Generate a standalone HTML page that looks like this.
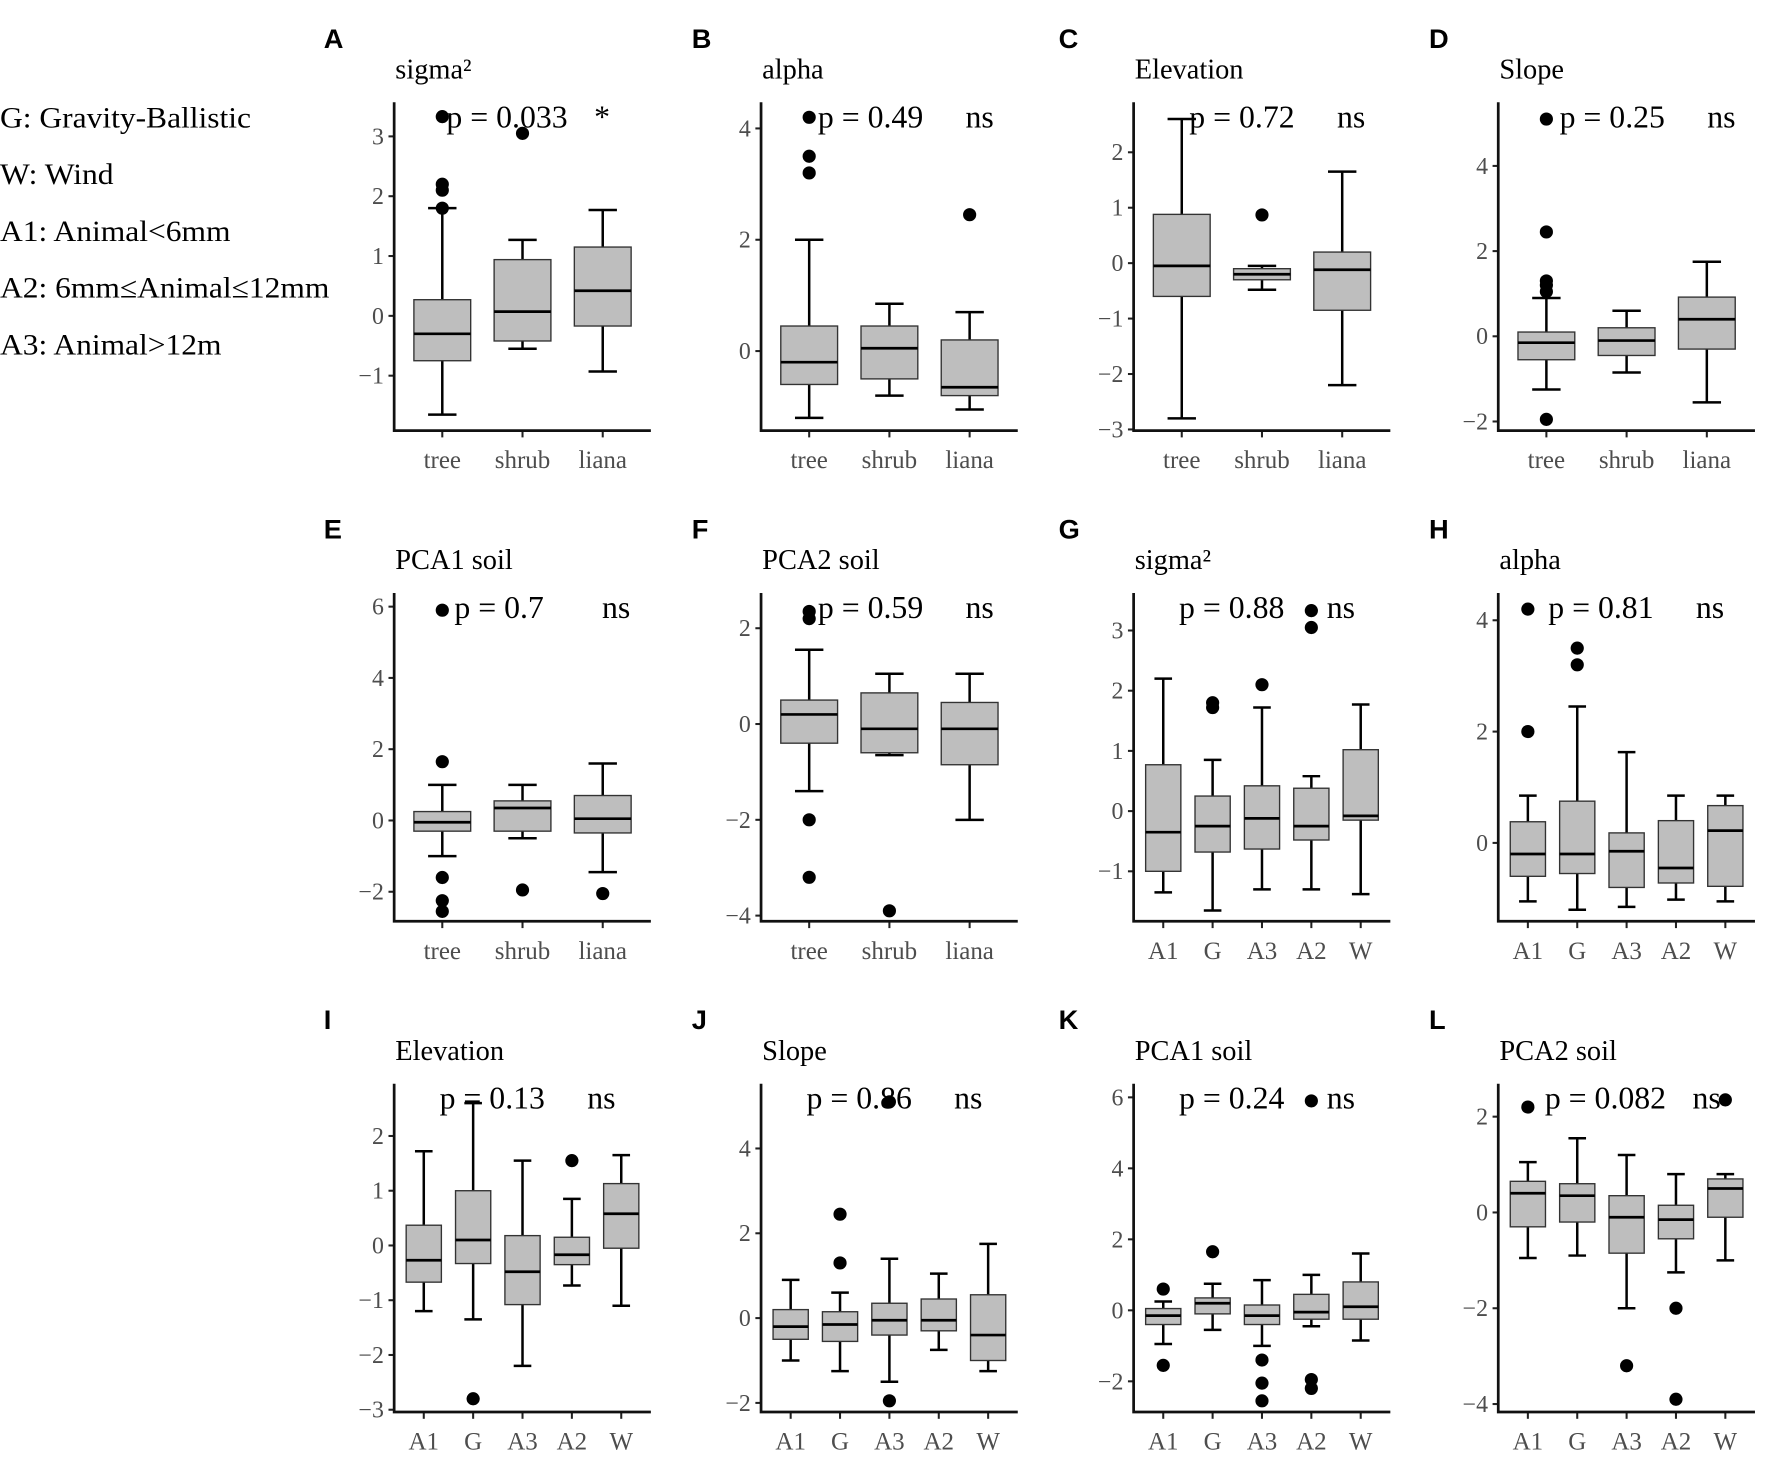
<!DOCTYPE html>
<html><head><meta charset="utf-8"><style>
html,body{margin:0;padding:0;background:#fff;}
svg{display:block;}
</style></head><body>
<svg id="s" width="1772" height="1470" viewBox="0 0 1560 1294" xmlns="http://www.w3.org/2000/svg"></svg>
<script>
const S=document.getElementById('s');let h='';
const serif='font-family="Liberation Serif, serif"';
['G: Gravity-Ballistic','W: Wind','A1: Animal<6mm','A2: 6mm≤Animal≤12mm','A3: Animal>12m'].forEach((t,i)=>{
 h+=`<text x="0" y="${112+i*50}" font-size="26" ${serif} fill="#000" textLength="${[221,100,203,290,195][i]}" lengthAdjust="spacingAndGlyphs">${t.replace('<','&lt;').replace('>','&gt;')}</text>`;});
const cols=[347,670,998,1319];
const letX=[285,609,932,1258];
const cat3=['tree','shrub','liana'],cat5=['A1','G','A3','A2','W'];
const P=[
['A','sigma²','p = 0.033','*',46,[3,120],[0,278],[-1,0,1,2,3],3,[
 [-1.65,-0.75,-0.3,0.27,1.8,[1.8,2.1,2.2,3.33]],[-0.55,-0.42,0.07,0.94,1.27,[3.05]],[-0.93,-0.17,0.42,1.15,1.77,[]]]],
['B','alpha','p = 0.49','ns',50,[4,113],[0,309],[0,2,4],3,[
 [-1.2,-0.6,-0.2,0.45,2.0,[3.2,3.5,4.2]],[-0.8,-0.5,0.05,0.45,0.85,[]],[-1.05,-0.8,-0.65,0.2,0.7,[2.45]]]],
['C','Elevation','p = 0.72','ns',49,[2,134],[-3,378],[-3,-2,-1,0,1,2],3,[
 [-2.8,-0.6,-0.05,0.88,2.6,[]],[-0.48,-0.3,-0.2,-0.1,-0.05,[0.87]],[-2.2,-0.85,-0.12,0.2,1.65,[]]]],
['D','Slope','p = 0.25','ns',54,[4,146],[-2,371],[-2,0,2,4],3,[
 [-1.25,-0.55,-0.15,0.1,0.9,[1.05,1.2,1.3,2.45,5.1,-1.95]],[-0.85,-0.45,-0.1,0.2,0.6,[]],[-1.55,-0.3,0.4,0.92,1.75,[]]]],
['E','PCA1 soil','p = 0.7','ns',53,[6,534],[-2,785],[-2,0,2,4,6],3,[
 [-1,-0.3,-0.05,0.25,1,[1.65,-1.6,-2.25,-2.55,5.9]],[-0.5,-0.3,0.35,0.55,1.0,[-1.95]],[-1.45,-0.35,0.05,0.7,1.6,[-2.05]]]],
['F','PCA2 soil','p = 0.59','ns',50,[2,553],[-4,806],[-4,-2,0,2],3,[
 [-1.4,-0.4,0.2,0.5,1.55,[2.2,2.35,-2.0,-3.2]],[-0.65,-0.6,-0.1,0.65,1.05,[-3.9]],[-2.0,-0.85,-0.1,0.45,1.05,[]]]],
['G','sigma²','p = 0.88','ns',40,[3,555],[-1,767],[-1,0,1,2,3],5,[
 [-1.35,-1.0,-0.35,0.77,2.2,[]],[-1.65,-0.68,-0.25,0.25,0.85,[1.72,1.8]],[-1.3,-0.63,-0.12,0.42,1.72,[2.1]],[-1.3,-0.48,-0.25,0.38,0.58,[3.05,3.33]],[-1.38,-0.15,-0.08,1.02,1.77,[]]]],
['H','alpha','p = 0.81','ns',44,[4,546],[0,742],[0,2,4],5,[
 [-1.05,-0.6,-0.2,0.38,0.85,[2.0,4.2]],[-1.2,-0.55,-0.2,0.75,2.45,[3.2,3.5]],[-1.15,-0.8,-0.15,0.18,1.63,[]],[-1.02,-0.72,-0.45,0.4,0.85,[]],[-1.05,-0.78,0.22,0.67,0.85,[]]]],
['I','Elevation','p = 0.13','ns',40,[2,1000],[-3,1241],[-3,-2,-1,0,1,2],5,[
 [-1.2,-0.67,-0.27,0.37,1.72,[]],[-1.35,-0.33,0.1,1.0,2.6,[-2.8]],[-2.2,-1.08,-0.48,0.18,1.55,[]],[-0.73,-0.35,-0.17,0.15,0.85,[1.55]],[-1.1,-0.05,0.58,1.13,1.65,[]]]],
['J','Slope','p = 0.86','ns',40,[4,1011],[-2,1235],[-2,0,2,4],5,[
 [-1.0,-0.5,-0.2,0.2,0.9,[]],[-1.25,-0.55,-0.15,0.15,0.6,[1.3,2.45]],[-1.5,-0.4,-0.05,0.35,1.4,[-1.95,5.1]],[-0.75,-0.3,-0.05,0.45,1.05,[]],[-1.25,-1.0,-0.4,0.55,1.75,[]]]],
['K','PCA1 soil','p = 0.24','ns',40,[6,966],[-2,1216],[-2,0,2,4,6],5,[
 [-0.95,-0.4,-0.15,0.05,0.25,[0.6,-1.55]],[-0.55,-0.1,0.2,0.35,0.75,[1.65]],[-1.0,-0.4,-0.15,0.15,0.85,[-1.4,-2.05,-2.55]],[-0.45,-0.25,-0.05,0.45,1.0,[-1.95,-2.2,5.9]],[-0.85,-0.25,0.1,0.8,1.6,[]]]],
['L','PCA2 soil','p = 0.082','ns',41,[2,983],[-4,1236],[-4,-2,0,2],5,[
 [-0.95,-0.3,0.4,0.65,1.05,[2.2]],[-0.9,-0.2,0.35,0.6,1.55,[]],[-2.0,-0.85,-0.1,0.35,1.2,[-3.2]],[-1.25,-0.55,-0.15,0.15,0.8,[-2.0,-3.9]],[-1.0,-0.1,0.5,0.7,0.8,[2.35]]]]
];
P.forEach((p,i)=>{
 const r=Math.floor(i/4),c=i%4,oy=r*432;
 const ax=cols[c],top=90+oy,bot=379+oy,W=226;
 const [t1,y1]=p[5],[t2,y2]=p[6];const k=(y2-y1)/(t2-t1);const Y=v=>y1+(v-t1)*k;
 const n=p[8],unit=W/(n+0.2),X=j=>ax+unit*(0.6+j);
 const bw=n==3?50:31;
 h+=`<text x="${letX[c]}" y="${42+oy}" font-size="24" font-weight="bold" font-family="Liberation Sans, sans-serif">${p[0]}</text>`;
 h+=`<text x="${ax+1}" y="${69+oy}" font-size="25" ${serif}>${p[1]}</text>`;
 p[7].forEach(v=>{const y=Y(v);h+=`<line x1="${ax-5}" x2="${ax}" y1="${y}" y2="${y}" stroke="#222" stroke-width="1.8"/>`;
  h+=`<text x="${ax-9}" y="${y+7}" font-size="21" ${serif} fill="#4d4d4d" text-anchor="end">${v<0?'−'+(-v):v}</text>`;});
 const cats=n==3?cat3:cat5;
 p[9].forEach((b,j)=>{const x=X(j);
  h+=`<line x1="${x}" x2="${x}" y1="${bot}" y2="${bot+6}" stroke="#222" stroke-width="1.8"/>`;
  h+=`<text x="${x}" y="${bot+33}" font-size="22" ${serif} fill="#4d4d4d" text-anchor="middle">${cats[j]}</text>`;
  const cw=bw/2;
  h+=`<line x1="${x}" x2="${x}" y1="${Y(b[0])}" y2="${Y(b[4])}" stroke="#000" stroke-width="2.2"/>`;
  h+=`<line x1="${x-cw/2}" x2="${x+cw/2}" y1="${Y(b[0])}" y2="${Y(b[0])}" stroke="#000" stroke-width="2.2"/>`;
  h+=`<line x1="${x-cw/2}" x2="${x+cw/2}" y1="${Y(b[4])}" y2="${Y(b[4])}" stroke="#000" stroke-width="2.2"/>`;
  h+=`<rect x="${x-bw/2}" y="${Y(b[3])}" width="${bw}" height="${Y(b[1])-Y(b[3])}" fill="#bebebe" stroke="#333" stroke-width="1.2"/>`;
  h+=`<line x1="${x-bw/2}" x2="${x+bw/2}" y1="${Y(b[2])}" y2="${Y(b[2])}" stroke="#000" stroke-width="2.4"/>`;
  b[5].forEach(o=>{h+=`<circle cx="${x}" cy="${Y(o)}" r="5.8" fill="#000"/>`;});
 });
 h+=`<polyline points="${ax},${top} ${ax},${bot} ${ax+W},${bot}" fill="none" stroke="#111" stroke-width="2.4"/>`;
 h+=`<text x="${ax+p[4]}" y="${112+oy}" font-size="28" ${serif}>${p[2]}</text>`;
 h+=`<text x="${ax+p[4]+130}" y="${112+oy}" font-size="28" ${serif}>${p[3]}</text>`;
});
S.innerHTML=h;
</script>
</body></html>
